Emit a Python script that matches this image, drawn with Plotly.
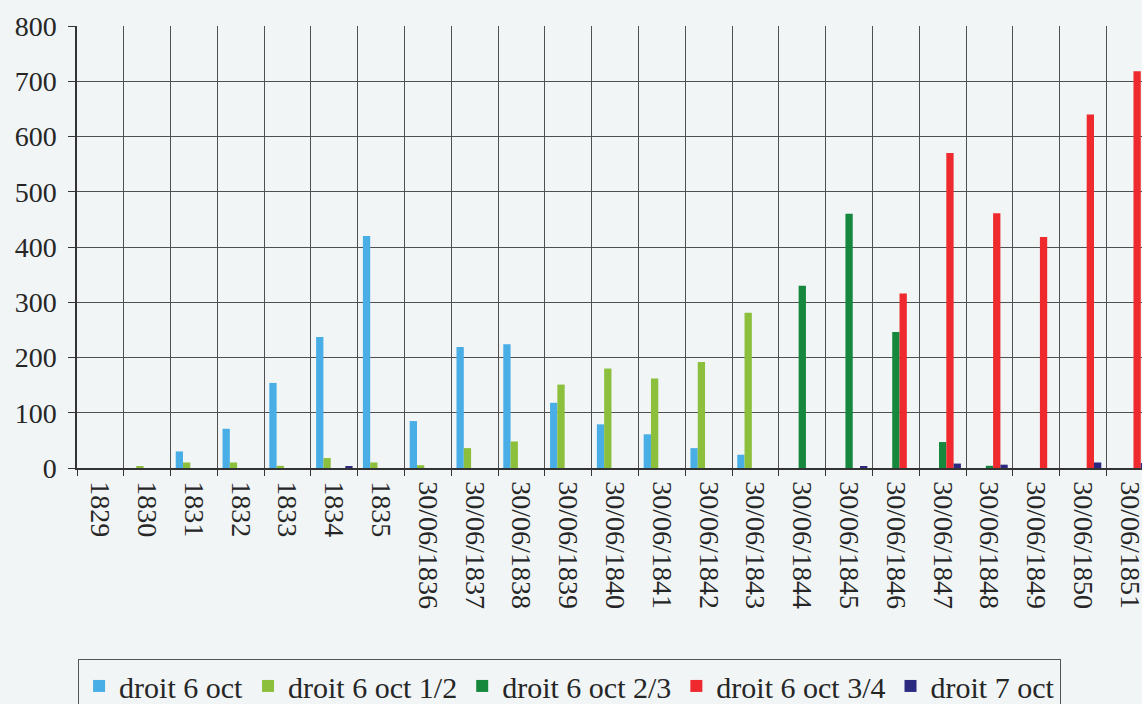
import plotly.graph_objects as go

categories = ["1829", "1830", "1831", "1832", "1833", "1834", "1835",
              "30/06/1836", "30/06/1837", "30/06/1838", "30/06/1839", "30/06/1840",
              "30/06/1841", "30/06/1842", "30/06/1843", "30/06/1844", "30/06/1845",
              "30/06/1846", "30/06/1847", "30/06/1848", "30/06/1849", "30/06/1850",
              "30/06/1851"]

droit_6_oct =     [0, 0, 30, 71, 154, 237, 420, 85, 219, 224, 118, 79, 61, 36, 24, 0, 0, 0, 0, 0, 0, 0, 0]
droit_6_oct_1_2 = [0, 3, 10, 10, 4, 18, 10, 5, 36, 48, 151, 180, 162, 192, 281, 0, 0, 0, 0, 0, 0, 0, 0]
droit_6_oct_2_3 = [0, 0, 0, 0, 0, 0, 0, 0, 0, 0, 0, 0, 0, 0, 0, 330, 460, 246, 47, 4, 0, 0, 0]
droit_6_oct_3_4 = [0, 0, 0, 0, 0, 0, 0, 0, 0, 0, 0, 0, 0, 0, 0, 0, 0, 316, 570, 461, 418, 640, 718]
droit_7_oct =     [0, 0, 0, 0, 0, 2, 0, 0, 0, 0, 0, 0, 0, 0, 0, 0, 3, 0, 8, 6, 0, 10, 9]

series_names = ["droit 6 oct", "droit 6 oct 1/2", "droit 6 oct 2/3", "droit 6 oct 3/4", "droit 7 oct"]
series_values = [droit_6_oct, droit_6_oct_1_2, droit_6_oct_2_3, droit_6_oct_3_4, droit_7_oct]
series_colors = ["#4aaee6", "#8cbf3c", "#16883d", "#ee2a2e", "#2c2a80"]

y_ticks = [0, 100, 200, 300, 400, 500, 600, 700, 800]

BG = "#f1f5f6"
GRID = "#505050"
FONT = "Liberation Serif, Times New Roman, DejaVu Serif, serif"

fig = go.Figure()
for name, vals, col in zip(series_names, series_values, series_colors):
    fig.add_trace(go.Bar(x=categories, y=vals, name=name,
                         marker=dict(color=col, line=dict(width=0))))

fig.update_layout(
    width=1142, height=704,
    barmode="group", bargap=0.22, bargroupgap=0,
    paper_bgcolor=BG, plot_bgcolor=BG,
    margin=dict(l=77, r=0, t=26, b=236, autoexpand=False),
    font=dict(family=FONT, color="#262626"),
    showlegend=True,
    legend=dict(orientation="h", x=0.001, xanchor="left", y=-0.432, yanchor="top",
                font=dict(family=FONT, size=30, color="#262626"),
                bgcolor=BG, bordercolor="#555555", borderwidth=1,
                traceorder="normal"),
    xaxis=dict(type="category", range=[-0.5, 22.26], tickson="boundaries",
               showgrid=True, gridcolor=GRID, gridwidth=1,
               showline=True, linecolor="#333333", linewidth=1.5,
               ticks="outside", ticklen=6, tickcolor="#333333",
               ticklabelstandoff=6,
               tickangle=90, tickfont=dict(family=FONT, size=28, color="#262626")),
    yaxis=dict(range=[0, 800], tickvals=y_ticks, ticktext=[str(v) for v in y_ticks],
               showgrid=True, gridcolor=GRID, gridwidth=1,
               showline=True, linecolor="#333333", linewidth=1.5,
               ticks="outside", ticklen=7, tickcolor="#333333",
               ticklabelstandoff=6,
               tickfont=dict(family=FONT, size=28, color="#262626"),
               zeroline=False),
)

fig.write_html("out.html")
